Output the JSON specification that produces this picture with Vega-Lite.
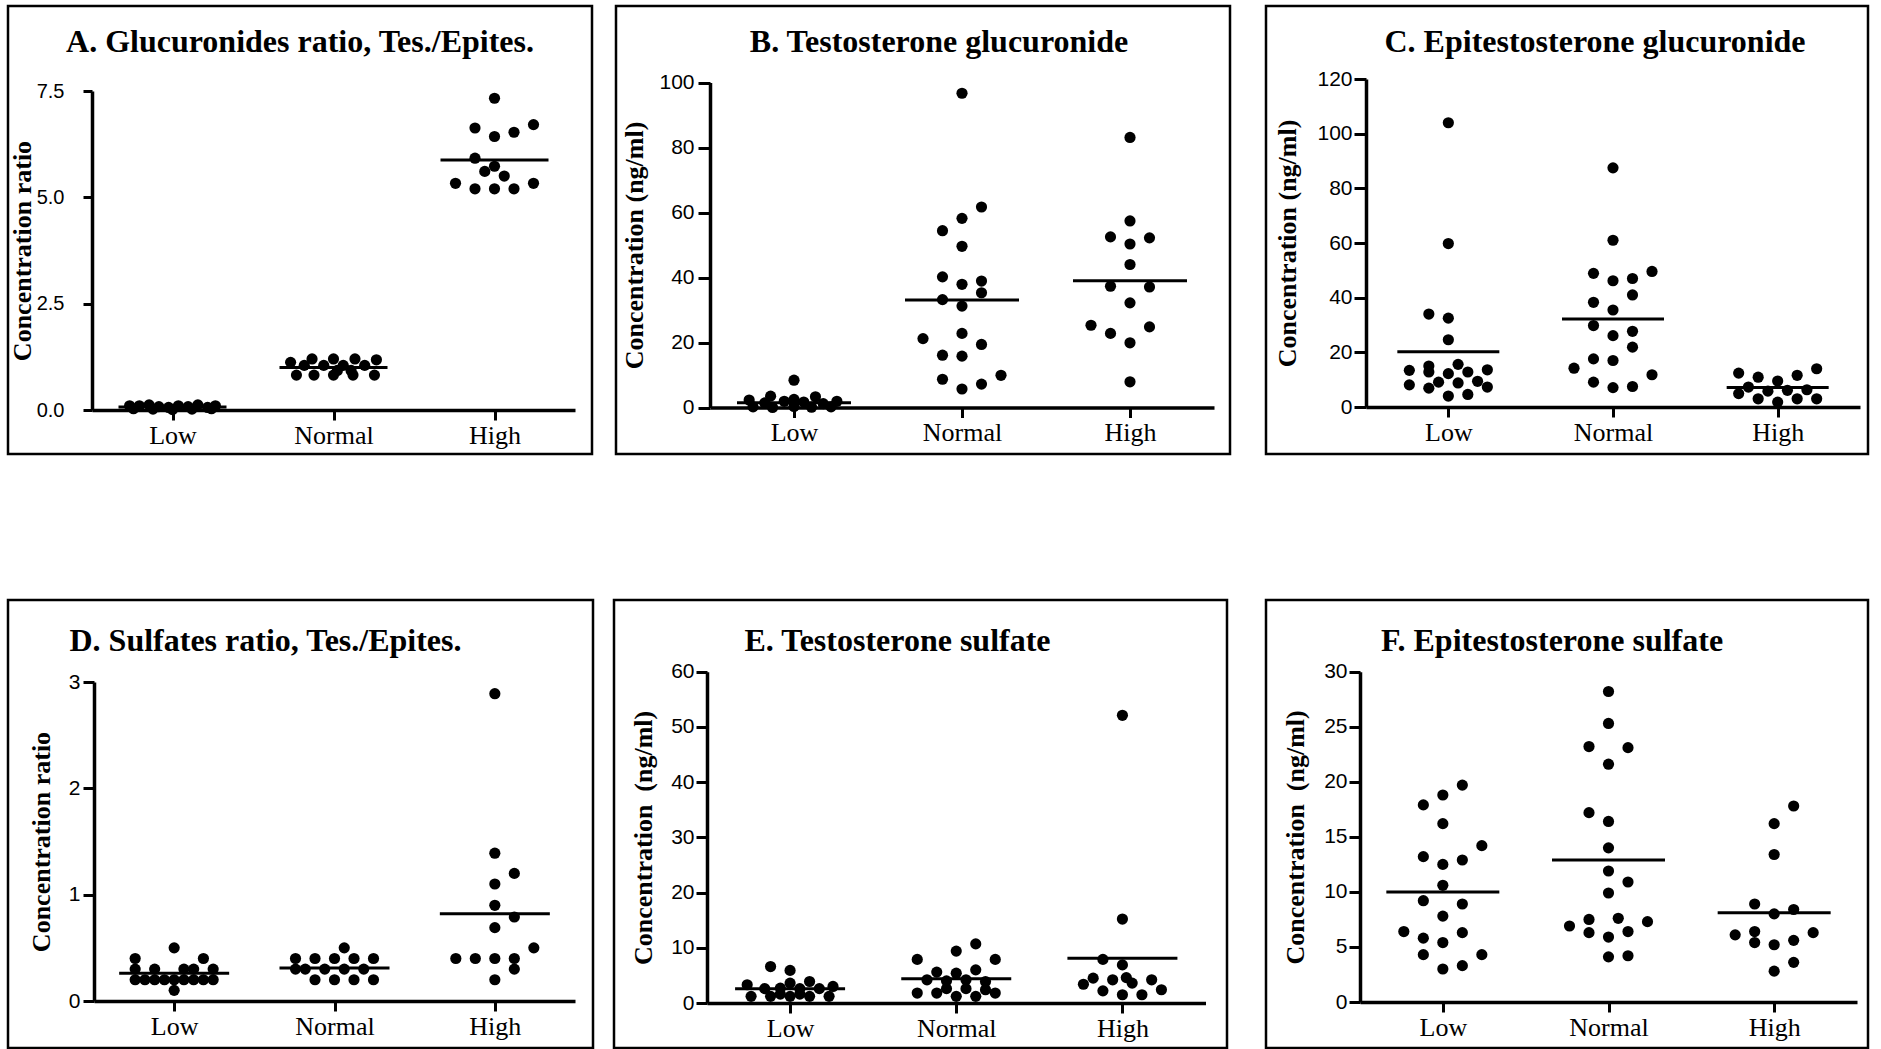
{
"$schema": "https://vega.github.io/schema/vega-lite/v6.json",
"background": "white",
"padding": {"left": 6, "top": 4, "right": 5, "bottom": 0},
"datasets": {
"points": [
{"panel":"A","group":"Low","value":0.1,"slot":-2.2},{"panel":"A","group":"Low","value":0.1,"slot":-1.7},{"panel":"A","group":"Low","value":0.12,"slot":-1.2},{"panel":"A","group":"Low","value":0.08,"slot":-0.7},{"panel":"A","group":"Low","value":0.06,"slot":-0.2},{"panel":"A","group":"Low","value":0.1,"slot":0.3},{"panel":"A","group":"Low","value":0.08,"slot":0.8},{"panel":"A","group":"Low","value":0.12,"slot":1.3},{"panel":"A","group":"Low","value":0.06,"slot":1.8},{"panel":"A","group":"Low","value":0.1,"slot":2.2},{"panel":"A","group":"Low","value":0.02,"slot":-1},{"panel":"A","group":"Low","value":0.01,"slot":0},{"panel":"A","group":"Low","value":0.02,"slot":1},{"panel":"A","group":"Low","value":0.03,"slot":2},{"panel":"A","group":"Low","value":0.03,"slot":-2},
{"panel":"A","group":"Normal","value":1.12,"slot":-2.2},{"panel":"A","group":"Normal","value":1.2,"slot":-1.1},{"panel":"A","group":"Normal","value":1.2,"slot":0},{"panel":"A","group":"Normal","value":1.2,"slot":1.1},{"panel":"A","group":"Normal","value":1.18,"slot":2.2},{"panel":"A","group":"Normal","value":1.05,"slot":-1.5},{"panel":"A","group":"Normal","value":1.05,"slot":-0.5},{"panel":"A","group":"Normal","value":1.05,"slot":0.5},{"panel":"A","group":"Normal","value":1.05,"slot":1.6},{"panel":"A","group":"Normal","value":0.82,"slot":-1.9},{"panel":"A","group":"Normal","value":0.82,"slot":-1},{"panel":"A","group":"Normal","value":0.82,"slot":0},{"panel":"A","group":"Normal","value":0.82,"slot":1},{"panel":"A","group":"Normal","value":0.82,"slot":2.1},{"panel":"A","group":"Normal","value":0.93,"slot":0.2},{"panel":"A","group":"Normal","value":0.93,"slot":0.9},
{"panel":"A","group":"High","value":7.33,"slot":0},{"panel":"A","group":"High","value":6.63,"slot":-1},{"panel":"A","group":"High","value":6.71,"slot":2},{"panel":"A","group":"High","value":6.43,"slot":0},{"panel":"A","group":"High","value":6.53,"slot":1},{"panel":"A","group":"High","value":5.92,"slot":-1},{"panel":"A","group":"High","value":5.73,"slot":0},{"panel":"A","group":"High","value":5.61,"slot":-0.5},{"panel":"A","group":"High","value":5.5,"slot":0.5},{"panel":"A","group":"High","value":5.33,"slot":-2},{"panel":"A","group":"High","value":5.2,"slot":-1},{"panel":"A","group":"High","value":5.2,"slot":0},{"panel":"A","group":"High","value":5.2,"slot":1},{"panel":"A","group":"High","value":5.33,"slot":2},
{"panel":"B","group":"Low","value":8.4,"slot":0},{"panel":"B","group":"Low","value":3.5,"slot":-1.2},{"panel":"B","group":"Low","value":3.3,"slot":1.1},{"panel":"B","group":"Low","value":2.3,"slot":-2.3},{"panel":"B","group":"Low","value":1.4,"slot":-1.5},{"panel":"B","group":"Low","value":1.9,"slot":-0.5},{"panel":"B","group":"Low","value":2.5,"slot":0},{"panel":"B","group":"Low","value":1.7,"slot":0.5},{"panel":"B","group":"Low","value":1.2,"slot":1.5},{"panel":"B","group":"Low","value":1.9,"slot":2.2},{"panel":"B","group":"Low","value":0.2,"slot":-2.1},{"panel":"B","group":"Low","value":0,"slot":-1.1},{"panel":"B","group":"Low","value":0.3,"slot":0},{"panel":"B","group":"Low","value":0.1,"slot":0.9},{"panel":"B","group":"Low","value":0.2,"slot":1.9},
{"panel":"B","group":"Normal","value":96.7,"slot":0},{"panel":"B","group":"Normal","value":61.7,"slot":1},{"panel":"B","group":"Normal","value":58.2,"slot":0},{"panel":"B","group":"Normal","value":54.4,"slot":-1},{"panel":"B","group":"Normal","value":49.6,"slot":0},{"panel":"B","group":"Normal","value":40.2,"slot":-1},{"panel":"B","group":"Normal","value":37.9,"slot":0},{"panel":"B","group":"Normal","value":38.9,"slot":1},{"panel":"B","group":"Normal","value":35.3,"slot":1},{"panel":"B","group":"Normal","value":33.2,"slot":-1},{"panel":"B","group":"Normal","value":31.2,"slot":0},{"panel":"B","group":"Normal","value":21.2,"slot":-2},{"panel":"B","group":"Normal","value":22.8,"slot":0},{"panel":"B","group":"Normal","value":19.4,"slot":1},{"panel":"B","group":"Normal","value":16.1,"slot":-1},{"panel":"B","group":"Normal","value":15.8,"slot":0},{"panel":"B","group":"Normal","value":8.7,"slot":-1},{"panel":"B","group":"Normal","value":9.9,"slot":2},{"panel":"B","group":"Normal","value":7.2,"slot":1},{"panel":"B","group":"Normal","value":5.7,"slot":0},
{"panel":"B","group":"High","value":83.1,"slot":0},{"panel":"B","group":"High","value":57.4,"slot":0},{"panel":"B","group":"High","value":52.5,"slot":-1},{"panel":"B","group":"High","value":52.2,"slot":1},{"panel":"B","group":"High","value":50.3,"slot":0},{"panel":"B","group":"High","value":44.0,"slot":0},{"panel":"B","group":"High","value":37.3,"slot":-1},{"panel":"B","group":"High","value":37.1,"slot":1},{"panel":"B","group":"High","value":32.2,"slot":0},{"panel":"B","group":"High","value":25.3,"slot":-2},{"panel":"B","group":"High","value":24.8,"slot":1},{"panel":"B","group":"High","value":22.8,"slot":-1},{"panel":"B","group":"High","value":19.9,"slot":0},{"panel":"B","group":"High","value":7.9,"slot":0},
{"panel":"C","group":"Low","value":104,"slot":0},{"panel":"C","group":"Low","value":59.8,"slot":0},{"panel":"C","group":"Low","value":34.0,"slot":-1},{"panel":"C","group":"Low","value":32.5,"slot":0},{"panel":"C","group":"Low","value":24.6,"slot":0},{"panel":"C","group":"Low","value":15.0,"slot":-1},{"panel":"C","group":"Low","value":15.6,"slot":0.5},{"panel":"C","group":"Low","value":13.4,"slot":-2},{"panel":"C","group":"Low","value":12.8,"slot":-1},{"panel":"C","group":"Low","value":12.2,"slot":0},{"panel":"C","group":"Low","value":12.8,"slot":1},{"panel":"C","group":"Low","value":13.6,"slot":2},{"panel":"C","group":"Low","value":8.1,"slot":-2},{"panel":"C","group":"Low","value":9.1,"slot":-0.5},{"panel":"C","group":"Low","value":8.8,"slot":0.5},{"panel":"C","group":"Low","value":9.4,"slot":1.5},{"panel":"C","group":"Low","value":6.9,"slot":-1},{"panel":"C","group":"Low","value":7.3,"slot":2},{"panel":"C","group":"Low","value":4.0,"slot":0},{"panel":"C","group":"Low","value":4.6,"slot":1},
{"panel":"C","group":"Normal","value":87.5,"slot":0},{"panel":"C","group":"Normal","value":61.0,"slot":0},{"panel":"C","group":"Normal","value":48.9,"slot":-1},{"panel":"C","group":"Normal","value":46.2,"slot":0},{"panel":"C","group":"Normal","value":47.0,"slot":1},{"panel":"C","group":"Normal","value":49.6,"slot":2},{"panel":"C","group":"Normal","value":38.3,"slot":-1},{"panel":"C","group":"Normal","value":35.5,"slot":0},{"panel":"C","group":"Normal","value":41.0,"slot":1},{"panel":"C","group":"Normal","value":29.8,"slot":-1},{"panel":"C","group":"Normal","value":26.1,"slot":0},{"panel":"C","group":"Normal","value":27.7,"slot":1},{"panel":"C","group":"Normal","value":21.9,"slot":1},{"panel":"C","group":"Normal","value":17.6,"slot":-1},{"panel":"C","group":"Normal","value":17.0,"slot":0},{"panel":"C","group":"Normal","value":14.2,"slot":-2},{"panel":"C","group":"Normal","value":11.8,"slot":2},{"panel":"C","group":"Normal","value":9.1,"slot":-1},{"panel":"C","group":"Normal","value":7.1,"slot":0},{"panel":"C","group":"Normal","value":7.5,"slot":1},
{"panel":"C","group":"High","value":12.4,"slot":-2},{"panel":"C","group":"High","value":10.9,"slot":-1},{"panel":"C","group":"High","value":11.6,"slot":1},{"panel":"C","group":"High","value":14.0,"slot":2},{"panel":"C","group":"High","value":9.5,"slot":0},{"panel":"C","group":"High","value":7.3,"slot":-1.5},{"panel":"C","group":"High","value":4.9,"slot":-2},{"panel":"C","group":"High","value":5.8,"slot":-0.5},{"panel":"C","group":"High","value":6.1,"slot":0.5},{"panel":"C","group":"High","value":6.3,"slot":1.5},{"panel":"C","group":"High","value":3.0,"slot":-1},{"panel":"C","group":"High","value":1.8,"slot":0},{"panel":"C","group":"High","value":3.0,"slot":1},{"panel":"C","group":"High","value":3.0,"slot":2},
{"panel":"D","group":"Low","value":0.5,"slot":0},{"panel":"D","group":"Low","value":0.4,"slot":-2},{"panel":"D","group":"Low","value":0.4,"slot":1.5},{"panel":"D","group":"Low","value":0.3,"slot":-2},{"panel":"D","group":"Low","value":0.3,"slot":-1},{"panel":"D","group":"Low","value":0.3,"slot":0.5},{"panel":"D","group":"Low","value":0.3,"slot":1},{"panel":"D","group":"Low","value":0.3,"slot":2},{"panel":"D","group":"Low","value":0.2,"slot":-2},{"panel":"D","group":"Low","value":0.2,"slot":-1.5},{"panel":"D","group":"Low","value":0.2,"slot":-1},{"panel":"D","group":"Low","value":0.2,"slot":-0.5},{"panel":"D","group":"Low","value":0.2,"slot":0.5},{"panel":"D","group":"Low","value":0.2,"slot":1},{"panel":"D","group":"Low","value":0.2,"slot":1.5},{"panel":"D","group":"Low","value":0.2,"slot":2},{"panel":"D","group":"Low","value":0.1,"slot":0},{"panel":"D","group":"Low","value":0.2,"slot":0},
{"panel":"D","group":"Normal","value":0.5,"slot":0.5},{"panel":"D","group":"Normal","value":0.4,"slot":-2},{"panel":"D","group":"Normal","value":0.4,"slot":-1},{"panel":"D","group":"Normal","value":0.4,"slot":0},{"panel":"D","group":"Normal","value":0.4,"slot":1},{"panel":"D","group":"Normal","value":0.4,"slot":2},{"panel":"D","group":"Normal","value":0.3,"slot":-2},{"panel":"D","group":"Normal","value":0.3,"slot":-1.5},{"panel":"D","group":"Normal","value":0.3,"slot":-0.5},{"panel":"D","group":"Normal","value":0.3,"slot":0.5},{"panel":"D","group":"Normal","value":0.3,"slot":1.5},{"panel":"D","group":"Normal","value":0.2,"slot":-1},{"panel":"D","group":"Normal","value":0.2,"slot":0},{"panel":"D","group":"Normal","value":0.2,"slot":1},{"panel":"D","group":"Normal","value":0.2,"slot":2},
{"panel":"D","group":"High","value":2.89,"slot":0},{"panel":"D","group":"High","value":1.39,"slot":0},{"panel":"D","group":"High","value":1.2,"slot":1},{"panel":"D","group":"High","value":1.1,"slot":0},{"panel":"D","group":"High","value":0.9,"slot":0},{"panel":"D","group":"High","value":0.79,"slot":1},{"panel":"D","group":"High","value":0.69,"slot":0},{"panel":"D","group":"High","value":0.5,"slot":2},{"panel":"D","group":"High","value":0.4,"slot":-2},{"panel":"D","group":"High","value":0.4,"slot":-1},{"panel":"D","group":"High","value":0.4,"slot":0},{"panel":"D","group":"High","value":0.4,"slot":1},{"panel":"D","group":"High","value":0.3,"slot":1},{"panel":"D","group":"High","value":0.2,"slot":0},
{"panel":"E","group":"Low","value":6.6,"slot":-1},{"panel":"E","group":"Low","value":5.9,"slot":0},{"panel":"E","group":"Low","value":3.3,"slot":-2.2},{"panel":"E","group":"Low","value":3.9,"slot":1},{"panel":"E","group":"Low","value":3.0,"slot":2.2},{"panel":"E","group":"Low","value":3.6,"slot":0},{"panel":"E","group":"Low","value":2.6,"slot":-1.3},{"panel":"E","group":"Low","value":2.7,"slot":-0.5},{"panel":"E","group":"Low","value":2.6,"slot":0.5},{"panel":"E","group":"Low","value":2.6,"slot":1.5},{"panel":"E","group":"Low","value":1.2,"slot":-2},{"panel":"E","group":"Low","value":1.2,"slot":-1},{"panel":"E","group":"Low","value":1.2,"slot":0},{"panel":"E","group":"Low","value":1.2,"slot":1},{"panel":"E","group":"Low","value":1.2,"slot":2},{"panel":"E","group":"Low","value":1.6,"slot":-0.5},{"panel":"E","group":"Low","value":1.6,"slot":0.5},
{"panel":"E","group":"Normal","value":10.7,"slot":1},{"panel":"E","group":"Normal","value":9.4,"slot":0},{"panel":"E","group":"Normal","value":7.9,"slot":-2},{"panel":"E","group":"Normal","value":7.9,"slot":2},{"panel":"E","group":"Normal","value":6.0,"slot":1},{"panel":"E","group":"Normal","value":5.6,"slot":-1},{"panel":"E","group":"Normal","value":5.4,"slot":0},{"panel":"E","group":"Normal","value":4.2,"slot":-1.5},{"panel":"E","group":"Normal","value":4.0,"slot":-0.5},{"panel":"E","group":"Normal","value":4.2,"slot":0.5},{"panel":"E","group":"Normal","value":3.9,"slot":1.5},{"panel":"E","group":"Normal","value":1.8,"slot":-2},{"panel":"E","group":"Normal","value":1.8,"slot":-1},{"panel":"E","group":"Normal","value":2.6,"slot":-0.5},{"panel":"E","group":"Normal","value":2.6,"slot":0.5},{"panel":"E","group":"Normal","value":2.4,"slot":1.5},{"panel":"E","group":"Normal","value":1.8,"slot":2},{"panel":"E","group":"Normal","value":1.2,"slot":0},{"panel":"E","group":"Normal","value":1.2,"slot":1},
{"panel":"E","group":"High","value":52.1,"slot":0},{"panel":"E","group":"High","value":15.2,"slot":0},{"panel":"E","group":"High","value":7.9,"slot":-1},{"panel":"E","group":"High","value":6.9,"slot":0},{"panel":"E","group":"High","value":4.5,"slot":-1.5},{"panel":"E","group":"High","value":3.4,"slot":-2},{"panel":"E","group":"High","value":4.2,"slot":-0.5},{"panel":"E","group":"High","value":3.6,"slot":0.5},{"panel":"E","group":"High","value":4.2,"slot":1.5},{"panel":"E","group":"High","value":2.2,"slot":-1},{"panel":"E","group":"High","value":1.5,"slot":0},{"panel":"E","group":"High","value":1.5,"slot":1},{"panel":"E","group":"High","value":2.4,"slot":2},{"panel":"E","group":"High","value":4.6,"slot":0.2},
{"panel":"F","group":"Low","value":19.7,"slot":1},{"panel":"F","group":"Low","value":18.8,"slot":0},{"panel":"F","group":"Low","value":17.9,"slot":-1},{"panel":"F","group":"Low","value":16.2,"slot":0},{"panel":"F","group":"Low","value":14.2,"slot":2},{"panel":"F","group":"Low","value":13.2,"slot":-1},{"panel":"F","group":"Low","value":12.9,"slot":1},{"panel":"F","group":"Low","value":12.5,"slot":0},{"panel":"F","group":"Low","value":10.6,"slot":0},{"panel":"F","group":"Low","value":9.2,"slot":-1},{"panel":"F","group":"Low","value":8.9,"slot":1},{"panel":"F","group":"Low","value":7.8,"slot":0},{"panel":"F","group":"Low","value":6.4,"slot":-2},{"panel":"F","group":"Low","value":6.3,"slot":1},{"panel":"F","group":"Low","value":5.8,"slot":-1},{"panel":"F","group":"Low","value":5.4,"slot":0},{"panel":"F","group":"Low","value":4.3,"slot":-1},{"panel":"F","group":"Low","value":4.3,"slot":2},{"panel":"F","group":"Low","value":3.3,"slot":1},{"panel":"F","group":"Low","value":3.0,"slot":0},
{"panel":"F","group":"Normal","value":28.2,"slot":0},{"panel":"F","group":"Normal","value":25.3,"slot":0},{"panel":"F","group":"Normal","value":23.2,"slot":-1},{"panel":"F","group":"Normal","value":23.1,"slot":1},{"panel":"F","group":"Normal","value":21.6,"slot":0},{"panel":"F","group":"Normal","value":17.2,"slot":-1},{"panel":"F","group":"Normal","value":16.4,"slot":0},{"panel":"F","group":"Normal","value":14.0,"slot":0},{"panel":"F","group":"Normal","value":11.9,"slot":0},{"panel":"F","group":"Normal","value":10.9,"slot":1},{"panel":"F","group":"Normal","value":9.9,"slot":0},{"panel":"F","group":"Normal","value":6.9,"slot":-2},{"panel":"F","group":"Normal","value":7.5,"slot":-1},{"panel":"F","group":"Normal","value":7.6,"slot":0.5},{"panel":"F","group":"Normal","value":7.3,"slot":2},{"panel":"F","group":"Normal","value":6.3,"slot":-1},{"panel":"F","group":"Normal","value":5.9,"slot":0},{"panel":"F","group":"Normal","value":6.4,"slot":1},{"panel":"F","group":"Normal","value":4.1,"slot":0},{"panel":"F","group":"Normal","value":4.2,"slot":1},
{"panel":"F","group":"High","value":17.8,"slot":1},{"panel":"F","group":"High","value":16.2,"slot":0},{"panel":"F","group":"High","value":13.4,"slot":0},{"panel":"F","group":"High","value":8.9,"slot":-1},{"panel":"F","group":"High","value":8.4,"slot":1},{"panel":"F","group":"High","value":8.0,"slot":0},{"panel":"F","group":"High","value":6.1,"slot":-2},{"panel":"F","group":"High","value":6.4,"slot":-1},{"panel":"F","group":"High","value":6.3,"slot":2},{"panel":"F","group":"High","value":5.4,"slot":-1},{"panel":"F","group":"High","value":5.2,"slot":0},{"panel":"F","group":"High","value":5.6,"slot":1},{"panel":"F","group":"High","value":3.6,"slot":1},{"panel":"F","group":"High","value":2.8,"slot":0}
],
"means": [
{"panel":"A","group":"Low","value":0.07},{"panel":"A","group":"Normal","value":1.0},{"panel":"A","group":"High","value":5.88},
{"panel":"B","group":"Low","value":1.5},{"panel":"B","group":"Normal","value":33.1},{"panel":"B","group":"High","value":39.0},
{"panel":"C","group":"Low","value":20.2},{"panel":"C","group":"Normal","value":32.2},{"panel":"C","group":"High","value":7.1},
{"panel":"D","group":"Low","value":0.26},{"panel":"D","group":"Normal","value":0.31},{"panel":"D","group":"High","value":0.82},
{"panel":"E","group":"Low","value":2.6},{"panel":"E","group":"Normal","value":4.4},{"panel":"E","group":"High","value":8.1},
{"panel":"F","group":"Low","value":10.0},{"panel":"F","group":"Normal","value":12.9},{"panel":"F","group":"High","value":8.1}
]
},
"vconcat": [
{"hconcat": [
 {"width": 584, "height": 448, "view": {"stroke": "black", "strokeWidth": 2.5},
  "title": {"text": "A. Glucuronides ratio, Tes./Epites.", "dx": 0, "offset": -53},
  "encoding": {
   "x": {"field": "group", "type": "nominal", "scale": {"type": "point", "domain": ["Low","Normal","High"], "range": [84, 567], "padding": 0.5}, "axis": {"title": null, "offset": -44}},
   "y": {"field": "value", "type": "quantitative", "scale": {"domain": [0, 7.5], "range": [404, 85], "nice": false, "zero": false}, "axis": {"title": "Concentration ratio", "offset": -84, "values": [0, 2.5, 5, 7.5], "format": ".1f", "tickSize": 9, "labelPadding": 19, "labelFontSize": 20, "titlePadding": 1}}
  },
  "layer": [
   {"data": {"name": "points"}, "transform": [{"filter": "datum.panel === 'A'"}], "mark": {"type": "circle", "size": 125, "color": "black", "opacity": 1}, "encoding": {"xOffset": {"field": "slot", "type": "quantitative", "scale": {"domain": [-1, 1], "range": [-19.5, 19.5]}}}},
   {"data": {"name": "means"}, "transform": [{"filter": "datum.panel === 'A'"}], "mark": {"type": "tick", "size": 108, "thickness": 3, "color": "black", "opacity": 1}}
  ]},
 {"hconcat": [
  {"width": 614, "height": 448, "view": {"stroke": "black", "strokeWidth": 2.5},
   "title": {"text": "B. Testosterone glucuronide", "dx": 16, "offset": -53},
   "encoding": {
    "x": {"field": "group", "type": "nominal", "scale": {"type": "point", "domain": ["Low","Normal","High"], "range": [94, 598], "padding": 0.5}, "axis": {"title": null, "offset": -46.5}},
    "y": {"field": "value", "type": "quantitative", "scale": {"domain": [0, 100], "range": [401.5, 76.5], "nice": false, "zero": false}, "axis": {"title": "Concentration (ng/ml)", "offset": -94, "values": [0, 20, 40, 60, 80, 100], "tickSize": 12, "labelPadding": 4, "titlePadding": 11}}
   },
   "layer": [
    {"data": {"name": "points"}, "transform": [{"filter": "datum.panel === 'B'"}], "mark": {"type": "circle", "size": 125, "color": "black", "opacity": 1}, "encoding": {"xOffset": {"field": "slot", "type": "quantitative", "scale": {"domain": [-1, 1], "range": [-20, 20]}}}},
    {"data": {"name": "means"}, "transform": [{"filter": "datum.panel === 'B'"}], "mark": {"type": "tick", "size": 114, "thickness": 3, "color": "black", "opacity": 1}}
   ]},
  {"width": 602, "height": 448, "view": {"stroke": "black", "strokeWidth": 2.5},
   "title": {"text": "C. Epitestosterone glucuronide", "dx": 28, "offset": -53},
   "encoding": {
    "x": {"field": "group", "type": "nominal", "scale": {"type": "point", "domain": ["Low","Normal","High"], "range": [100, 594], "padding": 0.5}, "axis": {"title": null, "offset": -47}},
    "y": {"field": "value", "type": "quantitative", "scale": {"domain": [0, 120], "range": [401, 73], "nice": false, "zero": false}, "axis": {"title": "Concentration (ng/ml)", "offset": -100, "values": [0, 20, 40, 60, 80, 100, 120], "tickSize": 12, "labelPadding": 2, "titlePadding": 16}}
   },
   "layer": [
    {"data": {"name": "points"}, "transform": [{"filter": "datum.panel === 'C'"}], "mark": {"type": "circle", "size": 125, "color": "black", "opacity": 1}, "encoding": {"xOffset": {"field": "slot", "type": "quantitative", "scale": {"domain": [-1, 1], "range": [-20, 20]}}}},
    {"data": {"name": "means"}, "transform": [{"filter": "datum.panel === 'C'"}], "mark": {"type": "tick", "size": 102, "thickness": 3, "color": "black", "opacity": 1}}
   ]}
 ], "spacing": 32}
], "spacing": 20},
{"hconcat": [
 {"width": 585, "height": 448, "view": {"stroke": "black", "strokeWidth": 2.5},
  "title": {"text": "D. Sulfates ratio, Tes./Epites.", "dx": -35, "offset": -58},
  "encoding": {
   "x": {"field": "group", "type": "nominal", "scale": {"type": "point", "domain": ["Low","Normal","High"], "range": [86, 567], "padding": 0.5}, "axis": {"title": null, "offset": -47}},
   "y": {"field": "value", "type": "quantitative", "scale": {"domain": [0, 3], "range": [401, 82], "nice": false, "zero": false}, "axis": {"title": "Concentration ratio", "offset": -86, "values": [0, 1, 2, 3], "tickSize": 11, "labelPadding": 3, "titlePadding": 14}}
  },
  "layer": [
   {"data": {"name": "points"}, "transform": [{"filter": "datum.panel === 'D'"}], "mark": {"type": "circle", "size": 125, "color": "black", "opacity": 1}, "encoding": {"xOffset": {"field": "slot", "type": "quantitative", "scale": {"domain": [-1, 1], "range": [-19.5, 19.5]}}}},
   {"data": {"name": "means"}, "transform": [{"filter": "datum.panel === 'D'"}], "mark": {"type": "tick", "size": 110, "thickness": 3, "color": "black", "opacity": 1}}
  ]},
 {"hconcat": [
  {"width": 613, "height": 448, "view": {"stroke": "black", "strokeWidth": 2.5},
   "title": {"text": "E. Testosterone sulfate", "dx": -23, "offset": -58},
   "encoding": {
    "x": {"field": "group", "type": "nominal", "scale": {"type": "point", "domain": ["Low","Normal","High"], "range": [93, 591.5], "padding": 0.5}, "axis": {"title": null, "offset": -45}},
    "y": {"field": "value", "type": "quantitative", "scale": {"domain": [0, 60], "range": [403, 71.7], "nice": false, "zero": false}, "axis": {"title": "Concentration\u00a0 (ng/ml)", "offset": -93, "values": [0, 10, 20, 30, 40, 50, 60], "tickSize": 11, "labelPadding": 2, "titlePadding": 14}}
   },
   "layer": [
    {"data": {"name": "points"}, "transform": [{"filter": "datum.panel === 'E'"}], "mark": {"type": "circle", "size": 125, "color": "black", "opacity": 1}, "encoding": {"xOffset": {"field": "slot", "type": "quantitative", "scale": {"domain": [-1, 1], "range": [-20, 20]}}}},
    {"data": {"name": "means"}, "transform": [{"filter": "datum.panel === 'E'"}], "mark": {"type": "tick", "size": 110, "thickness": 3, "color": "black", "opacity": 1}}
   ]},
  {"width": 602, "height": 448, "view": {"stroke": "black", "strokeWidth": 2.5},
   "title": {"text": "F. Epitestosterone sulfate", "dx": -15, "offset": -58},
   "encoding": {
    "x": {"field": "group", "type": "nominal", "scale": {"type": "point", "domain": ["Low","Normal","High"], "range": [94, 591], "padding": 0.5}, "axis": {"title": null, "offset": -46}},
    "y": {"field": "value", "type": "quantitative", "scale": {"domain": [0, 30], "range": [402, 71.7], "nice": false, "zero": false}, "axis": {"title": "Concentration\u00a0 (ng/ml)", "offset": -94, "values": [0, 5, 10, 15, 20, 25, 30], "tickSize": 11, "labelPadding": 2, "titlePadding": 15}}
   },
   "layer": [
    {"data": {"name": "points"}, "transform": [{"filter": "datum.panel === 'F'"}], "mark": {"type": "circle", "size": 125, "color": "black", "opacity": 1}, "encoding": {"xOffset": {"field": "slot", "type": "quantitative", "scale": {"domain": [-1, 1], "range": [-20, 20]}}}},
    {"data": {"name": "means"}, "transform": [{"filter": "datum.panel === 'F'"}], "mark": {"type": "tick", "size": 113, "thickness": 3, "color": "black", "opacity": 1}}
   ]}
 ], "spacing": 35}
], "spacing": 17}
],
"spacing": 142,
"config": {
 "font": "Liberation Sans",
 "title": {"font": "Liberation Serif", "fontSize": 32, "fontWeight": "bold", "color": "black", "anchor": "middle", "frame": "group", "baseline": "alphabetic"},
 "axis": {"grid": false, "domainColor": "black", "domainWidth": 3.5, "tickColor": "black", "tickWidth": 3, "labelColor": "black", "titleColor": "black", "titleFont": "Liberation Serif", "titleFontWeight": "bold", "titleFontSize": 26},
 "axisX": {"labelFont": "Liberation Serif", "labelFontSize": 26, "labelAngle": 0, "tickSize": 10, "labelPadding": 2},
 "axisY": {"labelFont": "Liberation Sans", "labelFontSize": 21}
}
}
